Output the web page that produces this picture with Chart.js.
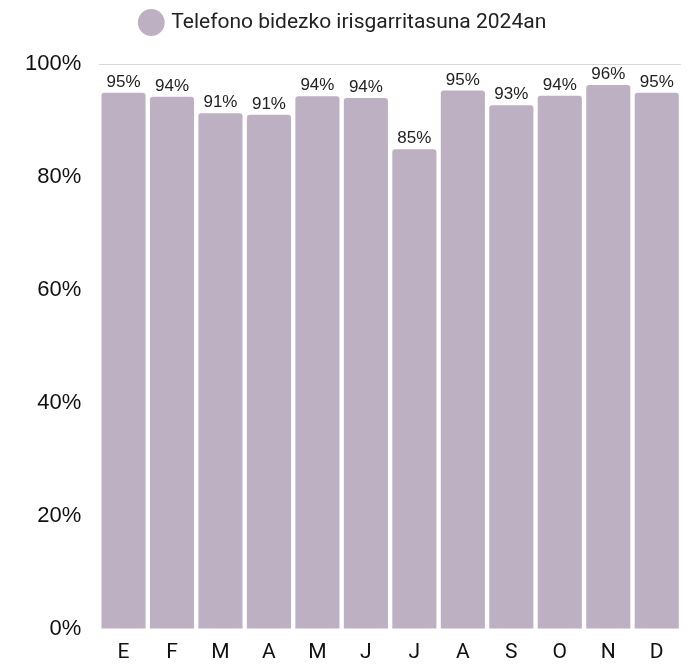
<!DOCTYPE html>
<html>
<head>
<meta charset="utf-8">
<script src="https://cdn.jsdelivr.net/npm/chart.js@4/dist/chart.umd.min.js"></script>
<style>
  html, body { margin: 0; padding: 0; background: #fff; }
</style>
</head>
<body>
<canvas id="barChart" width="693" height="664"></canvas>
<script>
const months = ['E', 'F', 'M', 'A', 'M', 'J', 'J', 'A', 'S', 'O', 'N', 'D'];
const reach = [94.9, 94.2, 91.3, 91.0, 94.3, 94.0, 84.9, 95.3, 92.7, 94.4, 96.3, 94.9];
const seriesName = 'Telefono bidezko irisgarritasuna 2024an';
const barColor = '#beb0c3';

// labels above the bars
const topLabels = {
  id: 'topLabels',
  afterDatasetsDraw(chart) {
    const ctx = chart.ctx;
    const meta = chart.getDatasetMeta(0);
    ctx.save();
    ctx.font = '17px "Liberation Sans", Arial, sans-serif';
    ctx.fillStyle = '#222';
    ctx.textAlign = 'center';
    ctx.textBaseline = 'alphabetic';
    meta.data.forEach((bar, i) => {
      ctx.fillText(Math.round(reach[i]) + '%', bar.x, bar.y - 6);
    });
    ctx.restore();
  }
};

// a bit more room under the legend
const legendGap = {
  id: 'legendGap',
  beforeInit(chart) {
    const fit = chart.legend.fit;
    chart.legend.fit = function () {
      fit.call(this);
      this.height += 21;
    };
  }
};

new Chart(document.getElementById('barChart'), {
  type: 'bar',
  data: {
    labels: months,
    datasets: [{
      label: seriesName,
      data: reach,
      backgroundColor: barColor,
      borderRadius: { topLeft: 3, topRight: 3 },
      borderSkipped: 'bottom',
      categoryPercentage: 1,
      barPercentage: 0.91
    }]
  },
  options: {
    responsive: false,
    animation: false,
    layout: { padding: { left: 7, right: 12, top: 2, bottom: 0 } },
    plugins: {
      legend: {
        labels: {
          usePointStyle: true,
          pointStyle: 'circle',
          boxWidth: 19,
          boxHeight: 19,
          color: '#222',
          font: { size: 21, family: 'Roboto' },
          padding: 10
        }
      },
      tooltip: { enabled: false }
    },
    scales: {
      x: {
        grid: { display: false },
        border: { display: false },
        ticks: { color: '#111', font: { size: 21, family: 'Roboto' }, padding: 3 },
        afterFit: scale => { scale.height = 35; }
      },
      y: {
        min: 0,
        max: 100,
        grid: {
          color: ctx => ctx.tick && ctx.tick.value === 100 ? '#d9d9d9' : 'rgba(0,0,0,0)',
          drawTicks: false
        },
        border: { display: false },
        ticks: {
          stepSize: 20,
          color: '#111',
          padding: 18,
          font: { size: 22, family: '"Liberation Sans", Arial, sans-serif' },
          callback: v => v + '%'
        }
      }
    }
  },
  plugins: [topLabels, legendGap]
});
</script>
</body>
</html>
